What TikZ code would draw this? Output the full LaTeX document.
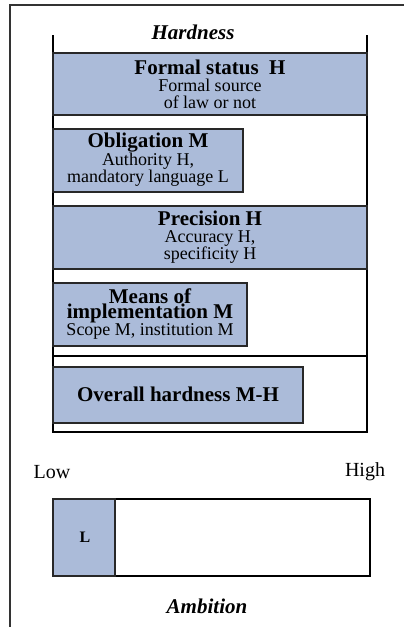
\documentclass[tikz,border=0pt]{standalone}
\usepackage{fontspec}
\setmainfont{Liberation Serif}
\definecolor{boxblue}{RGB}{171,187,217}
\definecolor{frameline}{RGB}{40,40,40}
\newcommand\hdf{\bfseries\fontsize{21}{19}\selectfont}
\begin{document}
\begin{tikzpicture}[x=1pt,y=-1pt,
  bar/.style={draw=frameline,line width=1.3pt,fill=boxblue},
  cont/.style={draw=black,line width=1.1pt},
  lbl/.style={align=center,inner sep=0pt,font=\fontsize{18}{17}\selectfont},
  hd/.style={font=\hdf},
  ttl/.style={inner sep=0pt,font=\bfseries\itshape\fontsize{21}{21}\selectfont}]
\useasboundingbox (0,0) rectangle (404,627);
% outer frame (cropped)
\draw[black!80,line width=1.2pt] (10,627) -- (10,5) -- (404,5);
% hardness container
\draw[cont] (53,35) -- (53,432) -- (367,432) -- (367,35);
\draw[cont] (53,115) -- (367,115);
\draw[cont] (53,206) -- (367,206);
\draw[cont] (53,269) -- (367,269);
\draw[cont] (53,356) -- (367,356);
\node[ttl] (hard) at (193,32) {Hardness};
% boxes
\draw[bar] (53,53) rectangle (367,115);
\node[lbl] (fs) at (210,84) {{\hdf Formal status\ \ H}\\Formal source\\of law or not};
\draw[bar] (53,129) rectangle (243,192);
\node[lbl] (ob) at (148,160) {{\hdf Obligation M}\\Authority H,\\mandatory language L};
\draw[bar] (53,206) rectangle (367,269);
\node[lbl] (pr) at (210,237) {{\hdf Precision H}\\Accuracy H,\\specificity H};
\draw[bar] (53,283) rectangle (247,346);
\node[lbl] (mi) at (150,314) {{\hdf Means of}\\[-2pt]{\hdf implementation M}\\Scope M, institution M};
\draw[bar] (53,367) rectangle (303,423);
\node[lbl,hd] (oh) at (178,394) {Overall hardness M-H};
% low / high
\node[lbl,font=\fontsize{20}{20}\selectfont] (low) at (52,472) {Low};
\node[lbl,font=\fontsize{20}{20}\selectfont] (high) at (365,472) {High};
% ambition bar
\draw[cont,line width=1.2pt] (53,499) rectangle (370,576);
\draw[bar,line width=1.2pt] (53,499) rectangle (115,576);
\node[lbl,font=\bfseries\fontsize{16}{16}\selectfont] (l) at (85,537) {L};
\node[ttl] (amb) at (207,606) {Ambition};
\end{tikzpicture}
\end{document}
